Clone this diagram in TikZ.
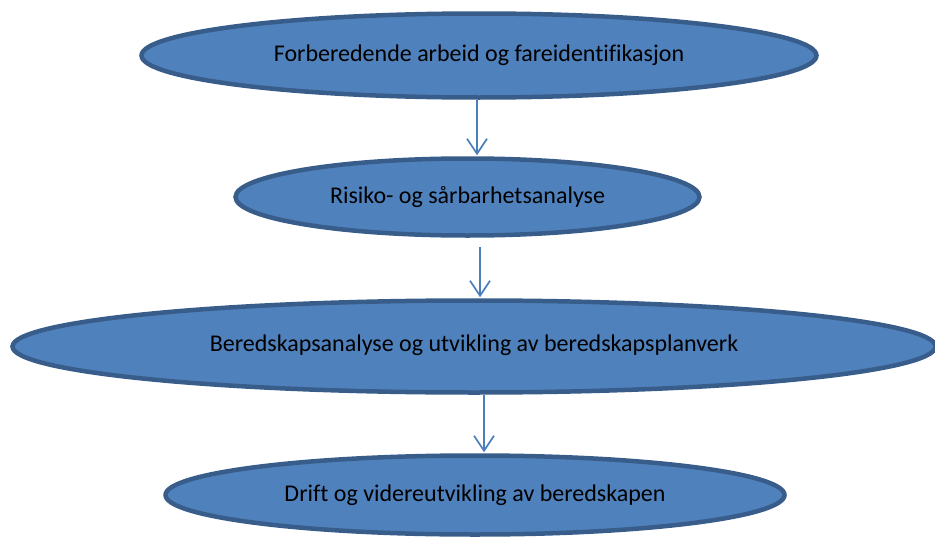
\documentclass[tikz,border=0pt]{standalone}
\usepackage{fontspec}
\setmainfont[Ligatures=NoCommon]{Carlito}
\usetikzlibrary{arrows.meta,shapes.geometric}
\definecolor{efill}{HTML}{4F81BD}
\definecolor{edraw}{HTML}{385D8A}
\definecolor{arrcol}{HTML}{4A7EBB}
\tikzset{
  stage/.style={ellipse, draw=edraw, fill=efill, line width=4.5pt, inner sep=0pt,
    font=\fontsize{24}{28}\selectfont, text=black},
  arr/.style={draw=arrcol, line width=1.7pt, -{Straight Barb[length=15pt,width=20pt,line width=1.7pt]}}
}
\begin{document}
\begin{tikzpicture}[x=1pt,y=-1pt]
\useasboundingbox (0,0) rectangle (935,538);
\node[stage, minimum width=675pt, minimum height=84pt] (e1) at (479,55.5) {\raisebox{4pt}{Forberedende arbeid og fareidentifikasjon}};
\node[stage, minimum width=464pt, minimum height=77pt] (e2) at (467.5,197) {Risiko- og sårbarhetsanalyse};
\node[stage, minimum width=923pt, minimum height=92pt] (e3) at (474,346.5) {\raisebox{6pt}{Beredskapsanalyse og utvikling av beredskapsplanverk}};
\node[stage, minimum width=619pt, minimum height=79pt] (e4) at (475,495) {Drift og videreutvikling av beredskapen};
\coordinate (x1) at (477,0);
\coordinate (x2) at (480,0);
\coordinate (x3) at (484,0);
\draw[arr] (e1.south -| x1) -- ([yshift=1pt]e2.north -| x1);
\draw[arr] ([yshift=-9pt]e2.south -| x2) -- ([yshift=1pt]e3.north -| x2);
\draw[arr] (e3.south -| x3) -- ([yshift=1pt]e4.north -| x3);
\end{tikzpicture}
\end{document}
